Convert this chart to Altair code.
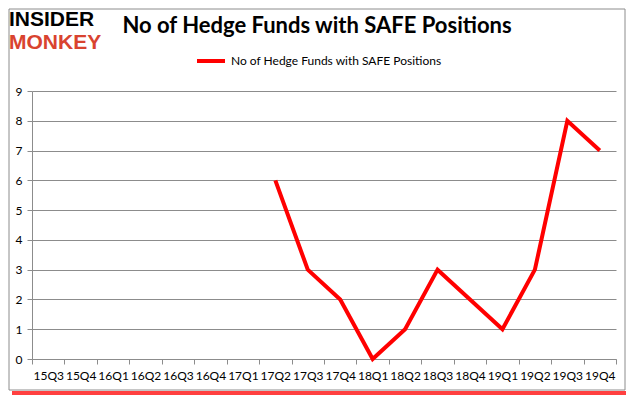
import altair as alt
import pandas as pd

quarters = ["15Q3", "15Q4", "16Q1", "16Q2", "16Q3", "16Q4", "17Q1", "17Q2", "17Q3",
            "17Q4", "18Q1", "18Q2", "18Q3", "18Q4", "19Q1", "19Q2", "19Q3", "19Q4"]
funds = [None, None, None, None, None, None, None, 6, 3, 2, 0, 1, 3, 2, 1, 3, 8, 7]
series_name = "No of Hedge Funds with SAFE Positions"
title_text = "No of Hedge Funds with SAFE Positions"

df = pd.DataFrame({"quarter": quarters, "funds": funds, "series": series_name})
df = df.dropna()

W, H = 584, 268
one = alt.Data(values=[{}])

line = alt.Chart(df).mark_line(strokeWidth=4, color="#ff0000").encode(
    x=alt.X("quarter:N", sort=quarters,
            scale=alt.Scale(type="band", domain=quarters, paddingInner=0, paddingOuter=0),
            axis=alt.Axis(title=None, tickBand="extent", grid=False, labelAngle=0,
                          domainColor="#8c8c8c", tickColor="#8c8c8c", tickSize=5,
                          labelFont="Lato", labelFontSize=12, labelColor="#000000",
                          labelPadding=6)),
    y=alt.Y("funds:Q", scale=alt.Scale(domain=[0, 9], nice=False),
            axis=alt.Axis(title=None, values=list(range(10)), grid=True,
                          gridColor="#8c8c8c", domainColor="#8c8c8c",
                          tickColor="#8c8c8c", tickSize=5,
                          labelFont="Lato", labelFontSize=12, labelColor="#000000",
                          labelPadding=5)),
    color=alt.Color("series:N", scale=alt.Scale(range=["#ff0000"]),
                    legend=alt.Legend(title=None, orient="none", legendX=163, legendY=-46,
                                      symbolType="stroke", symbolSize=784,
                                      symbolStrokeWidth=4, labelFont="Lato",
                                      labelFontSize=12, labelColor="#000000",
                                      labelLimit=0)),
)

frame = alt.Chart(one).mark_rect(filled=False, stroke="#8c8c8c", strokeWidth=1).encode(
    x=alt.value(-23), x2=alt.value(593), y=alt.value(-82), y2=alt.value(299))
shadow_b = alt.Chart(one).mark_rect(color="#ff0000", opacity=0.75).encode(
    x=alt.value(-20), x2=alt.value(594), y=alt.value(300), y2=alt.value(304))
shadow_r = alt.Chart(one).mark_rect(color="#ffb3b3", opacity=0.8).encode(
    x=alt.value(594), x2=alt.value(597), y=alt.value(-80), y2=alt.value(304))

logo1 = alt.Chart(one).mark_text(text="INSIDER", font="Liberation Sans", fontWeight="bold",
                                 fontSize=21, color="#000000", align="left",
                                 baseline="alphabetic").encode(
    x=alt.value(-23), y=alt.value(-65))
logo2 = alt.Chart(one).mark_text(text="MONKEY", font="Liberation Sans", fontWeight="bold",
                                 fontSize=21, color="#d9432f", align="left",
                                 baseline="alphabetic").encode(
    x=alt.value(-23), y=alt.value(-42))
title = alt.Chart(one).mark_text(text=title_text, font="Lato", fontWeight="bold",
                                 fontSize=22, color="#000000", align="center",
                                 baseline="alphabetic").encode(
    x=alt.value(285), y=alt.value(-58))

chart = alt.layer(frame, shadow_b, shadow_r, line, logo1, logo2, title).properties(
    width=W, height=H,
    autosize=alt.AutoSizeParams(type="none"),
    padding={"left": 24, "top": 83, "right": 10, "bottom": 37},
    background="#ffffff",
).configure_view(stroke=None)

chart.save("out.html", embed_options={"renderer": "svg", "actions": False})
